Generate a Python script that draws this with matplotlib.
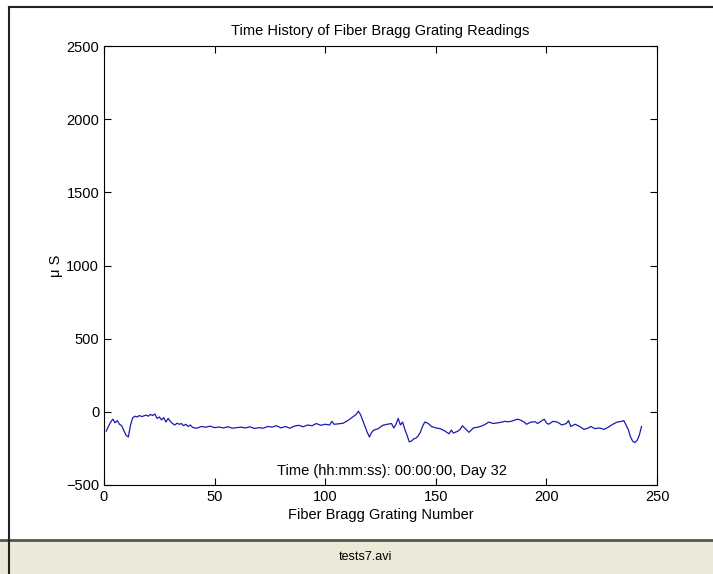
import matplotlib.pyplot as plt
from matplotlib.patches import Rectangle
from matplotlib.lines import Line2D

plt.rcParams['font.family'] = ['Liberation Sans', 'DejaVu Sans']

# grating number vs. strain
grating = [1, 2, 3, 4, 5, 6, 7, 8, 9, 10, 11, 12, 13, 14, 15, 16, 17, 18, 19, 20,
           21, 22, 23, 24, 25, 26, 27, 28, 29, 30, 31, 32, 33, 34, 35, 36, 37, 38, 39, 40,
           41, 42, 44, 46, 48, 50, 52, 54, 56, 58, 60, 62, 64, 66, 68, 70, 72, 74, 76, 78,
           80, 82, 84, 86, 88, 90, 92, 94, 96, 98, 100, 102, 103, 104, 106, 108, 110, 112, 114, 115,
           116, 117, 118, 119, 120, 121, 122, 124, 126, 128, 130, 131, 132, 133, 134, 135, 136, 137, 138, 139,
           140, 141, 142, 143, 144, 145, 146, 147, 148, 150, 152, 154, 155, 156, 157, 158, 160, 161, 162, 163,
           165, 167, 169, 171, 172, 174, 176, 178, 180, 181, 183, 185, 187, 188, 190, 191, 193, 195, 196, 198,
           199, 200, 201, 203, 205, 207, 209, 210, 211, 213, 215, 217, 219, 220, 222, 224, 226, 228, 230, 232,
           234, 235, 236, 237, 238, 239, 240, 241, 242, 243]
strain = [-132, -100, -70, -50, -75, -60, -85, -95, -130, -160, -172, -90, -40, -30, -35, -25, -32, -28, -22, -30,
          -18, -25, -15, -45, -35, -55, -40, -70, -45, -65, -80, -90, -78, -85, -80, -95, -85, -100, -90, -105,
          -110, -112, -100, -105, -98, -108, -104, -110, -102, -112, -108, -105, -110, -102, -114, -108, -112, -100, -104, -95,
          -110, -100, -112, -98, -92, -102, -90, -95, -80, -92, -85, -90, -65, -85, -82, -78, -62, -40, -18, 5,
          -20, -60, -100, -140, -172, -140, -125, -115, -92, -85, -80, -110, -85, -45, -90, -70, -120, -160, -205, -200,
          -185, -180, -165, -140, -100, -70, -75, -85, -100, -110, -115, -130, -140, -150, -125, -145, -132, -120, -95, -110,
          -140, -110, -105, -95, -88, -70, -80, -75, -70, -65, -68, -60, -50, -55, -70, -85, -70, -68, -80, -60,
          -50, -75, -85, -65, -70, -90, -80, -60, -100, -85, -100, -120, -110, -100, -115, -110, -120, -105, -85, -70,
          -65, -60, -90, -120, -170, -200, -210, -195, -160, -100]

xticks = [0, 50, 100, 150, 200, 250]
yticks = [-500, 0, 500, 1000, 1500, 2000, 2500]

W, H = 713, 574
fig = plt.figure(figsize=(W / 100, H / 100), dpi=100)
fig.patch.set_facecolor('white')

# status bar and window border
fig.add_artist(Rectangle((0, 0), 1, 34 / H, transform=fig.transFigure,
                         facecolor='#ece9d8', edgecolor='none'))
fig.add_artist(Line2D([0, 1], [34 / H, 34 / H], transform=fig.transFigure,
                      color='#555555', lw=2))
fig.add_artist(Line2D([9 / W, 9 / W], [0, 1 - 7 / H], transform=fig.transFigure,
                      color='#222222', lw=1.5))
fig.add_artist(Line2D([9 / W, 1], [1 - 7 / H, 1 - 7 / H], transform=fig.transFigure,
                      color='#222222', lw=1.5))
fig.text(365 / W, 17 / H, 'tests7.avi', ha='center', va='center', fontsize=9)

ax = fig.add_axes([104 / W, 1 - 485 / H, (657 - 104) / W, (485 - 46) / H])
ax.plot(grating, strain, color='#1a1ab0', lw=0.9)

ax.set_xlim(0, 250)
ax.set_ylim(-500, 2500)
ax.set_xticks(xticks)
ax.set_yticks(yticks)
ax.tick_params(direction='in', top=True, right=True, length=5, labelsize=10.5, width=0.8)
for s in ax.spines.values():
    s.set_linewidth(0.8)

ax.set_title('Time History of Fiber Bragg Grating Readings', fontsize=10.5, pad=8)
ax.set_xlabel('Fiber Bragg Grating Number', fontsize=10.5, labelpad=3)
ax.set_ylabel('\u03bc S', fontsize=10.5, labelpad=2)
ax.text(130, -405, 'Time (hh:mm:ss): 00:00:00, Day 32', ha='center', va='center', fontsize=10.5)

fig.savefig('out.png', dpi=100)
